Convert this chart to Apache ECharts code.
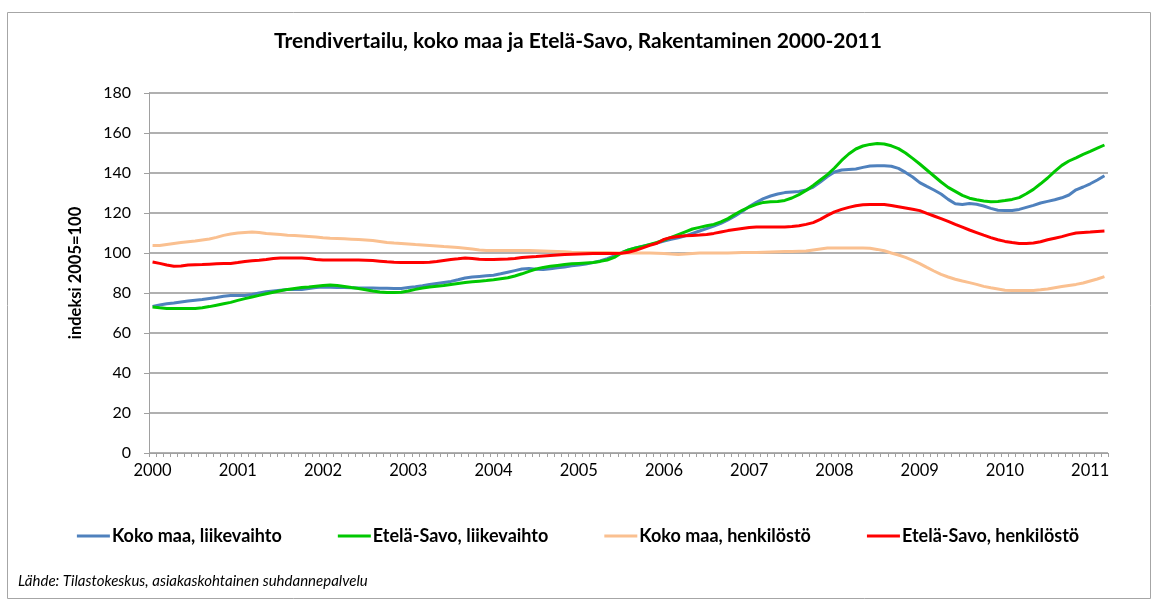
<!DOCTYPE html>
<html lang="fi" style="height: 100%">
<head>
  <meta charset="utf-8">
</head>
<body style="height: 100%; margin: 0; background: #fff">
  <div id="container" style="width: 1156px; height: 601px"></div>

  <script type="text/javascript" src="https://cdn.jsdelivr.net/npm/echarts@6/dist/echarts.min.js"></script>

  <script type="text/javascript">
    // kuukausittaiset trendit 1/2000 - 3/2011, indeksi 2005=100
    var years = ['2000', '2001', '2002', '2003', '2004', '2005', '2006', '2007', '2008', '2009', '2010', '2011'];
    var monthsInLastYear = 3;

    var kokoMaaLiikevaihto = [
      73.3, 74.0, 74.6, 75.0, 75.5, 76.0, 76.4, 76.8, 77.3, 77.8, 78.4, 78.7,
      78.8, 78.8, 79.3, 80.0, 80.6, 81.0, 81.4, 81.7, 81.7, 81.8, 82.2, 82.7,
      83.0, 82.9, 82.8, 82.7, 82.6, 82.5, 82.5, 82.5, 82.4, 82.4, 82.3, 82.3,
      82.7, 83.1, 83.6, 84.2, 84.8, 85.3, 85.8, 86.6, 87.5, 88.0, 88.3, 88.6,
      88.9, 89.6, 90.4, 91.2, 92.0, 92.2, 91.9, 91.7, 92.1, 92.6, 93.0, 93.6,
      94.0, 94.5, 95.2, 96.0, 97.2, 98.5, 100.2, 101.5, 102.5, 103.4, 104.2, 105.0,
      106.0, 106.8, 107.6, 108.6, 109.8, 111.0, 112.2, 113.4, 114.8, 116.5, 118.5, 120.8,
      123.2, 125.3, 127.2, 128.5, 129.5, 130.2, 130.5, 130.8, 131.5, 133.0, 135.5, 138.2,
      140.5, 141.5, 141.8, 142.0, 142.8, 143.5, 143.6, 143.6, 143.4, 142.3, 140.3, 138.0,
      135.2, 133.3, 131.5, 129.5, 126.8, 124.6, 124.3, 124.8, 124.4, 123.5, 122.3, 121.4,
      121.2, 121.3, 121.8, 122.8, 123.8, 125.0, 125.8, 126.6, 127.6, 129.0, 131.6, 133.0,
      134.6, 136.5, 138.6
    ];

    var etelaSavoLiikevaihto = [
      73.0, 72.6, 72.3, 72.2, 72.2, 72.2, 72.3, 72.6, 73.2, 73.9, 74.6, 75.3,
      76.3, 77.2, 78.0, 78.8, 79.6, 80.4, 81.1, 81.8, 82.3, 82.7, 83.0, 83.4,
      83.8, 84.0, 83.8, 83.3, 82.7, 82.2, 81.6, 81.0, 80.5, 80.2, 80.2, 80.4,
      81.0, 81.8, 82.5, 83.0, 83.4, 83.8, 84.3, 84.8, 85.3, 85.6, 85.9, 86.2,
      86.6, 87.1, 87.6, 88.5, 89.6, 90.8, 92.0, 92.8, 93.4, 93.8, 94.2, 94.6,
      94.8, 95.0, 95.2, 95.8, 96.5, 97.8, 100.0, 101.5, 102.5, 103.3, 104.3, 105.3,
      106.5, 107.8, 109.2, 110.6, 112.0, 112.8, 113.6, 114.3, 115.6, 117.2, 119.4, 121.3,
      123.0, 124.3, 125.3, 125.6, 125.7, 126.3, 127.5, 129.2, 131.3, 133.8, 136.5, 139.2,
      142.5, 146.3, 149.5, 152.0, 153.5, 154.3, 154.7, 154.5, 153.6, 152.2, 150.0, 147.3,
      144.5, 141.5, 138.5, 135.5, 132.8, 130.8, 128.8, 127.4, 126.6, 126.0, 125.6, 125.8,
      126.2, 126.8, 127.7, 129.6, 131.8, 134.6, 137.5, 140.8, 143.8, 146.0, 147.6, 149.3,
      150.8, 152.4, 154.0
    ];

    var kokoMaaHenkilosto = [
      103.8, 103.7, 104.3, 104.8, 105.2, 105.6, 106.0, 106.5, 107.0, 107.8, 108.8, 109.5,
      110.0, 110.3, 110.5, 110.2, 109.7, 109.5, 109.2, 108.9, 108.7, 108.5, 108.3, 108.0,
      107.6, 107.4, 107.3, 107.1, 106.9, 106.7, 106.5, 106.2, 105.8, 105.3, 105.0, 104.8,
      104.5, 104.2, 104.0, 103.8, 103.5, 103.2, 103.0, 102.7, 102.4, 102.0, 101.5, 101.2,
      101.2, 101.2, 101.2, 101.2, 101.2, 101.2, 101.1, 101.0, 100.9, 100.8, 100.6, 100.4,
      100.3, 100.2, 100.2, 100.2, 100.2, 100.1, 100.0, 100.0, 100.0, 100.0, 100.0, 99.9,
      99.8, 99.5, 99.3, 99.5, 99.8, 100.0, 100.0, 100.0, 100.0, 100.0, 100.1, 100.2,
      100.3, 100.3, 100.4, 100.5, 100.6, 100.7, 100.8, 100.9, 101.0, 101.5, 102.0, 102.5,
      102.5, 102.5, 102.5, 102.5, 102.5, 102.4, 101.8, 101.1, 100.0, 99.0, 97.8, 96.3,
      94.7, 92.8, 91.0, 89.3, 88.0, 86.9, 86.0, 85.2, 84.3, 83.3, 82.6, 82.0,
      81.4, 81.2, 81.2, 81.2, 81.3, 81.6, 82.0, 82.6, 83.2, 83.8, 84.3, 85.0,
      86.0, 87.0, 88.2
    ];

    var etelaSavoHenkilosto = [
      95.5, 94.8, 94.0, 93.4, 93.5, 94.0, 94.1, 94.2, 94.4, 94.6, 94.7, 94.8,
      95.2, 95.7, 96.1, 96.4, 96.8, 97.3, 97.5, 97.5, 97.5, 97.5, 97.3, 96.8,
      96.5, 96.5, 96.5, 96.5, 96.5, 96.5, 96.4, 96.2, 95.9, 95.6, 95.4, 95.3,
      95.3, 95.3, 95.3, 95.4, 95.8, 96.3, 96.8, 97.1, 97.5, 97.3, 96.9, 96.8,
      96.8, 96.9, 97.0, 97.3, 97.7, 98.0, 98.2, 98.5, 98.8, 99.0, 99.2, 99.4,
      99.5, 99.6, 99.7, 99.7, 99.7, 99.8, 99.9, 100.4, 101.3, 102.6, 103.8, 104.9,
      106.8, 107.8, 108.3, 108.6, 108.8, 109.0, 109.3, 109.8, 110.5, 111.2, 111.8, 112.3,
      112.8, 113.0, 113.0, 113.0, 113.0, 113.0, 113.2, 113.6, 114.3, 115.2, 116.8, 118.8,
      120.6, 121.8, 122.8, 123.6, 124.1, 124.3, 124.3, 124.2, 123.7, 123.1, 122.5, 121.9,
      121.2, 119.8, 118.5, 117.2, 115.8, 114.3, 112.9, 111.5, 110.2, 108.9, 107.7, 106.6,
      105.8, 105.2, 104.8, 104.7, 105.0, 105.6, 106.6, 107.4, 108.2, 109.2, 110.0, 110.3,
      110.5, 110.8, 111.0
    ];

    // kategoriat: vuosi näkyy vain tammikuun kohdalla
    var months = [];
    years.forEach(function (y, k) {
      var n = k === years.length - 1 ? monthsInLastYear : 12;
      for (var m = 1; m <= n; m++) months.push(y + '-' + m);
    });

    var font = 'Lato, "Liberation Sans", sans-serif';

    var dom = document.getElementById('container');
    var myChart = echarts.init(dom, null, { renderer: 'canvas' });

    function line(name, data, color) {
      return {
        name: name,
        type: 'line',
        data: data,
        showSymbol: false,
        symbol: 'none',
        lineStyle: { width: 3, color: color },
        itemStyle: { color: color },
        emphasis: { disabled: true }
      };
    }

    var option = {
      backgroundColor: '#fff',
      animation: false,
      textStyle: { fontFamily: font },
      title: {
        text: 'Trendivertailu, koko maa ja Etelä-Savo, Rakentaminen 2000-2011',
        left: 'center',
        top: 26,
        textStyle: { fontFamily: font, fontSize: 21, fontWeight: 'bold', color: '#000' }
      },
      graphic: [
        {
          type: 'rect',
          shape: { x: 7.5, y: 12.5, width: 1143, height: 586 },
          style: { fill: 'none', stroke: '#a6a6a6', lineWidth: 1 },
          silent: true
        },
        {
          type: 'text',
          left: 18,
          top: 574,
          style: {
            text: 'Lähde: Tilastokeskus, asiakaskohtainen suhdannepalvelu',
            font: 'italic 15px ' + font,
            fill: '#000'
          }
        }
      ],
      legend: {
        bottom: 51,
        left: 'center',
        icon: 'rect',
        itemWidth: 33,
        itemHeight: 3,
        itemGap: 56,
        textStyle: { fontFamily: font, fontSize: 18, fontWeight: 'bold', color: '#000', padding: [0, 0, 0, -3] },
        data: ['Koko maa, liikevaihto', 'Etelä-Savo, liikevaihto', 'Koko maa, henkilöstö', 'Etelä-Savo, henkilöstö']
      },
      grid: { left: 149, right: 48, top: 93, bottom: 148 },
      xAxis: {
        type: 'category',
        data: months,
        boundaryGap: true,
        axisLine: { lineStyle: { color: '#a0a0a0', width: 1 } },
        axisTick: { show: true, interval: 0, length: 4, lineStyle: { color: '#a0a0a0' } },
        axisLabel: {
          interval: function (idx) { return idx % 12 === 0; },
          formatter: function (v) { return v.split('-')[0]; },
          color: '#000',
          fontSize: 16.5,
          fontFamily: font,
          margin: 9
        },
        splitLine: { show: false }
      },
      yAxis: {
        type: 'value',
        min: 0,
        max: 180,
        interval: 20,
        name: 'indeksi 2005=100',
        nameLocation: 'middle',
        nameGap: 65,
        nameTextStyle: { fontFamily: font, fontSize: 16.5, fontWeight: 'bold', color: '#000' },
        axisLine: { show: true, lineStyle: { color: '#a0a0a0', width: 1 } },
        axisTick: { show: true, length: 5, lineStyle: { color: '#a0a0a0' } },
        axisLabel: { color: '#000', fontSize: 16, fontFamily: font, margin: 18 },
        splitLine: { lineStyle: { color: '#b0b0b0', width: 2 } }
      },
      series: [
        line('Koko maa, liikevaihto', kokoMaaLiikevaihto, '#4f81bd'),
        line('Etelä-Savo, liikevaihto', etelaSavoLiikevaihto, '#00c800'),
        line('Koko maa, henkilöstö', kokoMaaHenkilosto, '#fac090'),
        line('Etelä-Savo, henkilöstö', etelaSavoHenkilosto, '#ff0000')
      ]
    };

    myChart.setOption(option);

    window.addEventListener('resize', function () {
      myChart.resize();
    });
  </script>
</body>
</html>
